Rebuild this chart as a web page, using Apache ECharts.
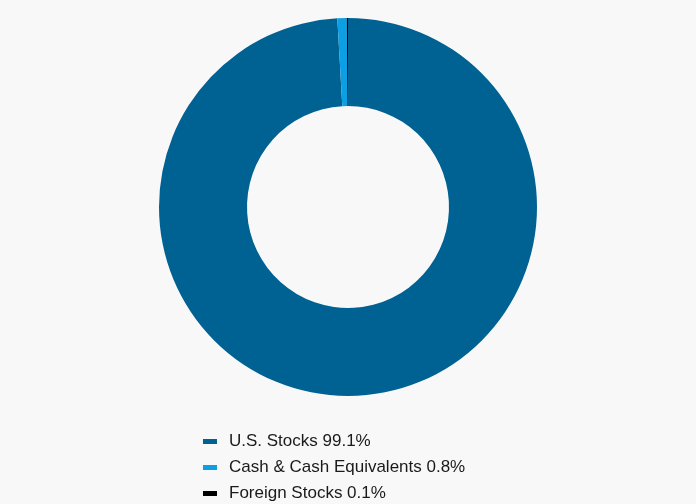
<!DOCTYPE html>
<html>
<head>
<meta charset="utf-8">
<script src="https://cdn.jsdelivr.net/npm/echarts@6/dist/echarts.min.js"></script>
<style>
  html, body { margin: 0; padding: 0; background: #f8f8f8; }
  #chart { width: 696px; height: 504px; }
</style>
</head>
<body>
<div id="chart"></div>
<script>
// holdings breakdown, percent
const categories = ['U.S. Stocks', 'Cash & Cash Equivalents', 'Foreign Stocks'];
const shares = [99.1, 0.8, 0.1];
const colors = ['#006193', '#0d9fe3', '#000000'];

const chart = echarts.init(document.getElementById('chart'));

const data = categories.map((name, i) => ({
    name: name,
    value: shares[i],
    itemStyle: { color: colors[i] }
}));

chart.setOption({
    backgroundColor: '#f8f8f8',
    animation: false,
    legend: {
        orient: 'vertical',
        left: 203,
        top: 433,
        height: 80,
        padding: 0,
        itemWidth: 14,
        itemHeight: 5,
        itemGap: 9,
        icon: 'rect',
        data: categories,
        formatter: function (name) {
            return name + ' ' + shares[categories.indexOf(name)].toFixed(1) + '%';
        },
        textStyle: {
            fontFamily: 'Liberation Sans',
            fontSize: 17,
            color: '#1a1a1a',
            padding: [0, 0, 0, 7]
        }
    },
    series: [{
        type: 'pie',
        center: [348, 207],
        radius: [101, 189],
        startAngle: 90,
        clockwise: true,
        label: { show: false },
        labelLine: { show: false },
        emphasis: { disabled: true },
        itemStyle: { borderWidth: 0 },
        data: data
    }]
});
</script>
</body>
</html>
